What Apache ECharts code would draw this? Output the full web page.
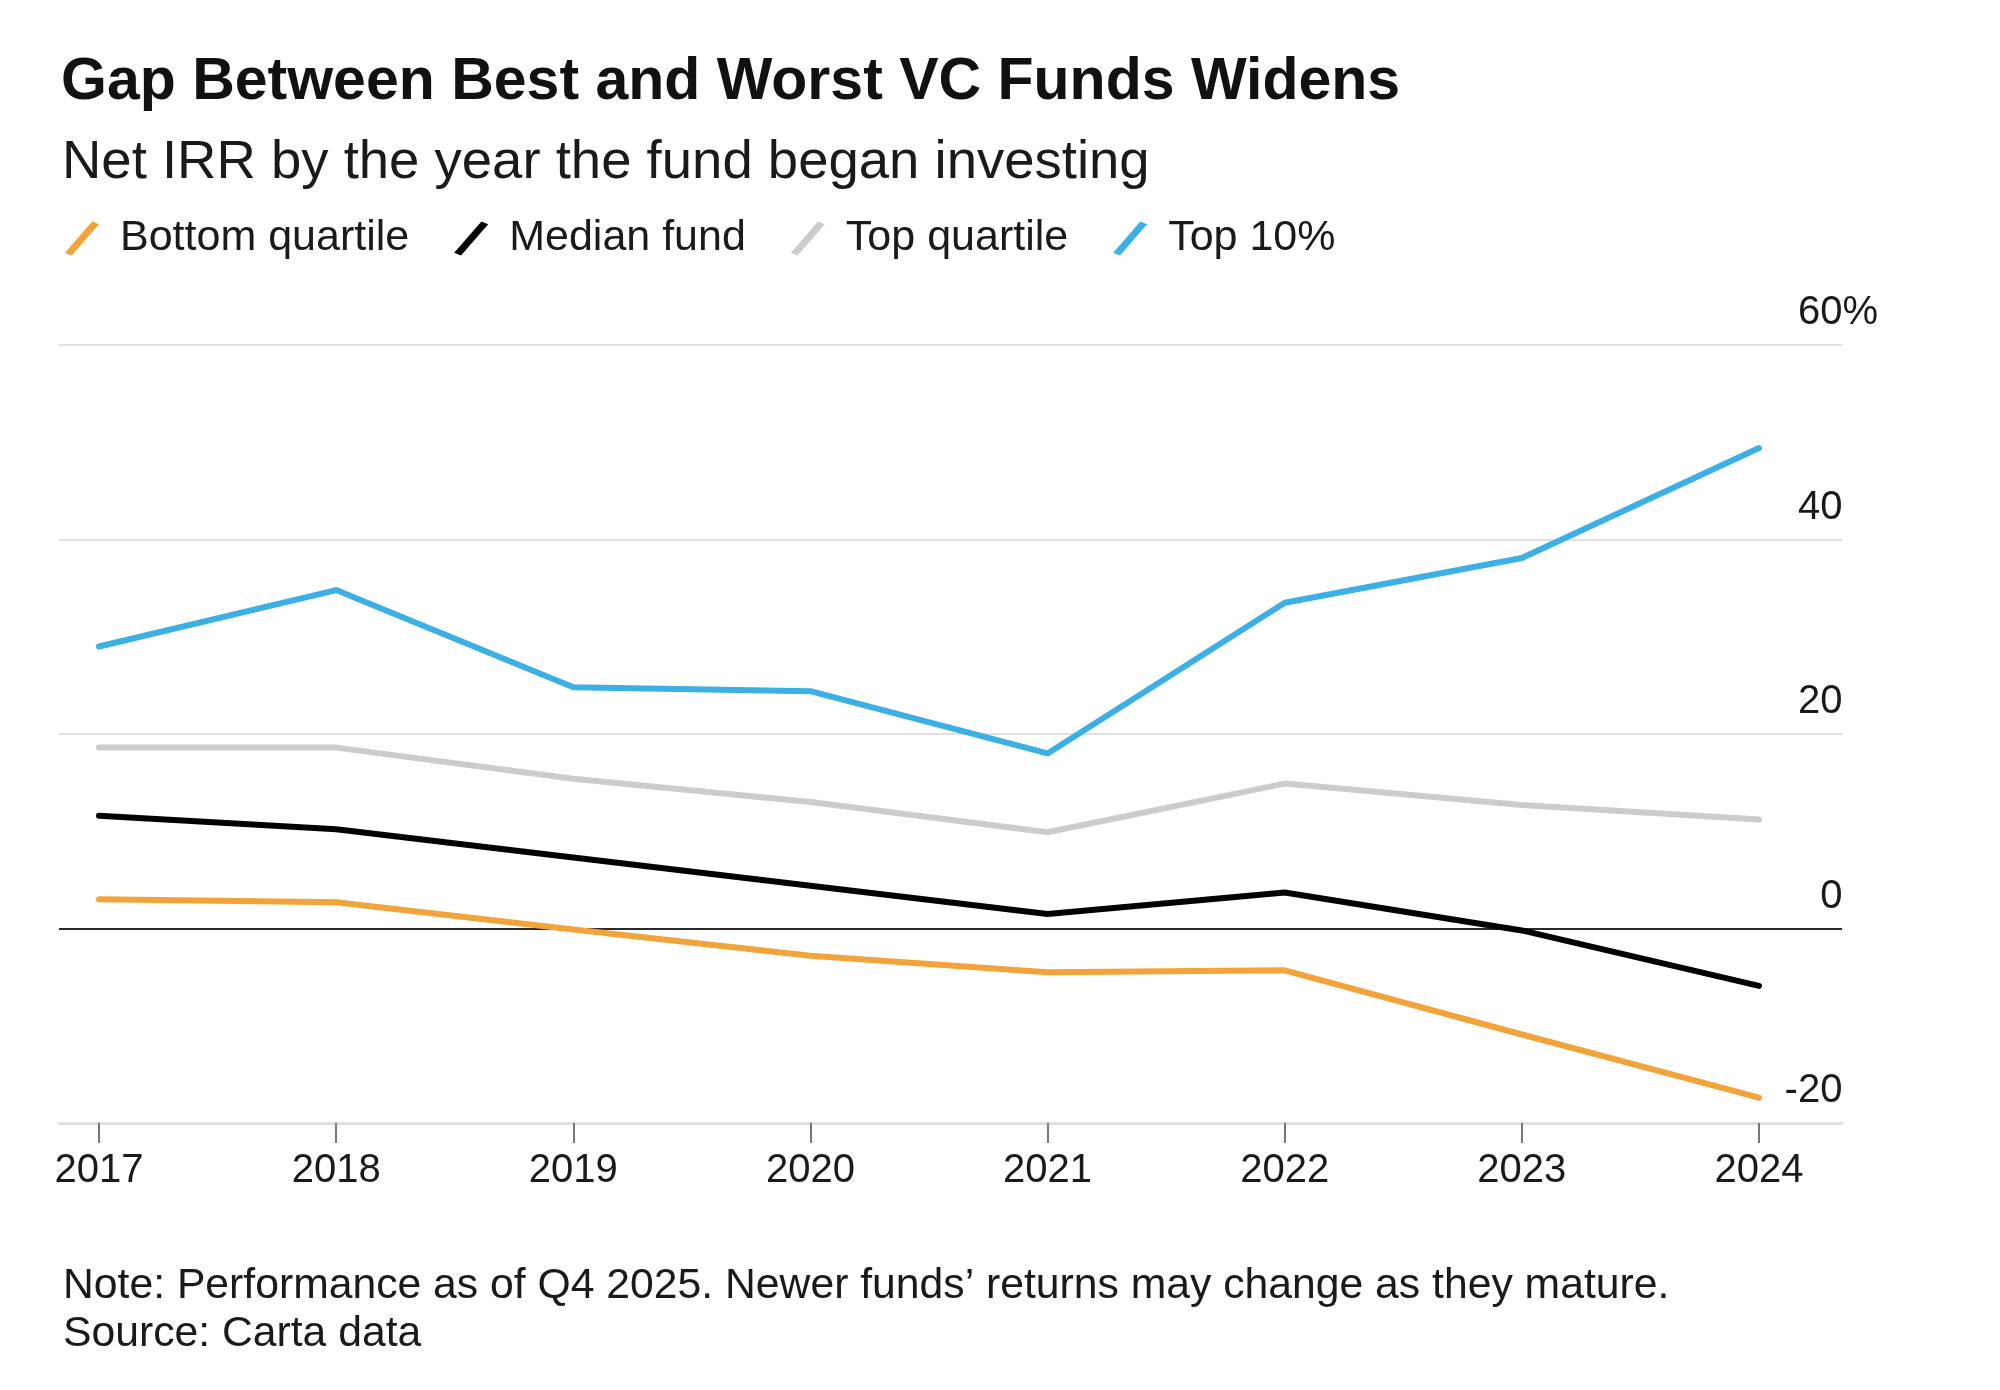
<!DOCTYPE html>
<html lang="en">
<head>
    <meta charset="UTF-8">
    <title>Gap Between Best and Worst VC Funds Widens</title>
    <script src="https://cdn.jsdelivr.net/npm/echarts@6/dist/echarts.min.js"></script>
    <style>
        html, body { margin: 0; padding: 0; background: #fff; overflow: hidden; }
        #container { width: 2000px; height: 1390px; }
    </style>
</head>
<body>
<div id="container"></div>
<script>
    // data
    const years = ['2017', '2018', '2019', '2020', '2021', '2022', '2023', '2024'];
    const bottomQuartile = [3.0, 2.7, -0.1, -2.8, -4.5, -4.3, -10.9, -17.4];
    const medianFund = [11.6, 10.2, 7.3, 4.4, 1.5, 3.7, -0.2, -5.9];
    const topQuartile = [18.6, 18.6, 15.4, 13.0, 9.9, 14.9, 12.7, 11.2];
    const top10 = [29.0, 34.8, 24.8, 24.4, 18.0, 33.5, 38.1, 49.4];
    const yTicks = [-20, 0, 20, 40, 60];

    const font = "'Liberation Sans', Arial, Helvetica, sans-serif";
    const slash = 'path://M0,9.2 L8,0 L10,0.8 L2,10 Z';

    const chart = echarts.init(document.getElementById('container'));

    function line(name, data, color) {
        return {
            name: name,
            type: 'line',
            xAxisIndex: 1,
            yAxisIndex: 1,
            data: data,
            symbol: 'none',
            silent: true,
            color: color,
            lineStyle: { color: color, width: 6, cap: 'round', join: 'round' }
        };
    }

    const option = {
        backgroundColor: '#ffffff',
        animation: false,
        textStyle: { fontFamily: font },
        title: [{
            text: 'Gap Between Best and Worst VC Funds Widens',
            left: 56, top: 48,
            textStyle: { fontSize: 59, fontWeight: 'bold', color: '#111', fontFamily: font }
        }, {
            text: 'Net IRR by the year the fund began investing',
            left: 57, top: 130,
            textStyle: { fontSize: 54.5, fontWeight: 'normal', color: '#1a1a1a', fontFamily: font }
        }, {
            text: 'Note: Performance as of Q4 2025. Newer funds\u2019 returns may change as they mature.\nSource: Carta data',
            left: 58, top: 1257,
            textStyle: { fontSize: 42.7, lineHeight: 48, fontWeight: 'normal', color: '#1a1a1a', fontFamily: font }
        }],
        legend: {
            left: 60, top: 212,
            itemWidth: 34, itemHeight: 40, itemGap: 45,
            icon: slash,
            selectedMode: false,
            textStyle: { fontSize: 43, color: '#1a1a1a', fontFamily: font, padding: [0, 0, 0, 16] },
            data: ['Bottom quartile', 'Median fund', 'Top quartile', 'Top 10%']
        },
        grid: [
            { left: 59, right: 158, top: 345, bottom: 267 },
            { left: 99, right: 241, top: 345, bottom: 267 }
        ],
        xAxis: [{
            gridIndex: 0, type: 'value', min: 0, max: 1,
            axisLine: { show: true, onZero: false, lineStyle: { color: '#e0e0e0', width: 3 } },
            axisTick: { show: false }, axisLabel: { show: false }, splitLine: { show: false }
        }, {
            gridIndex: 1, type: 'category', data: years, boundaryGap: false,
            axisLine: { show: false, onZero: false },
            axisTick: { show: true, length: 20, lineStyle: { color: '#777', width: 2 } },
            axisLabel: { fontSize: 40, color: '#1a1a1a', margin: 28, fontFamily: font },
            splitLine: { show: false }
        }],
        yAxis: [{
            gridIndex: 0, type: 'value', min: yTicks[0], max: yTicks[yTicks.length - 1], interval: 20,
            position: 'right',
            axisLine: { show: false }, axisTick: { show: false },
            splitLine: { show: true, lineStyle: { color: ['#e0e0e0', '#2a2a2a', '#e0e0e0', '#e0e0e0', '#e0e0e0'], width: 2 } },
            axisLabel: {
                margin: 36, align: 'right', verticalAlign: 'bottom', padding: [0, 0, 12, 0],
                fontSize: 40, color: '#1a1a1a', fontFamily: font,
                formatter: v => v === 60 ? '{n|60}{p|%}' : '{n|' + v + '}{h|%}',
                rich: {
                    n: { fontSize: 40, color: '#1a1a1a', fontFamily: font },
                    p: { fontSize: 40, color: '#1a1a1a', fontFamily: font },
                    h: { fontSize: 40, color: 'rgba(0,0,0,0)', fontFamily: font }
                }
            }
        }, {
            gridIndex: 1, type: 'value', min: yTicks[0], max: yTicks[yTicks.length - 1], interval: 20,
            show: false
        }],
        series: [
            line('Bottom quartile', bottomQuartile, '#f2a33a'),
            line('Median fund', medianFund, '#000000'),
            line('Top quartile', topQuartile, '#cccccc'),
            line('Top 10%', top10, '#3cb0e4')
        ]
    };
    chart.setOption(option);
</script>
</body>
</html>
